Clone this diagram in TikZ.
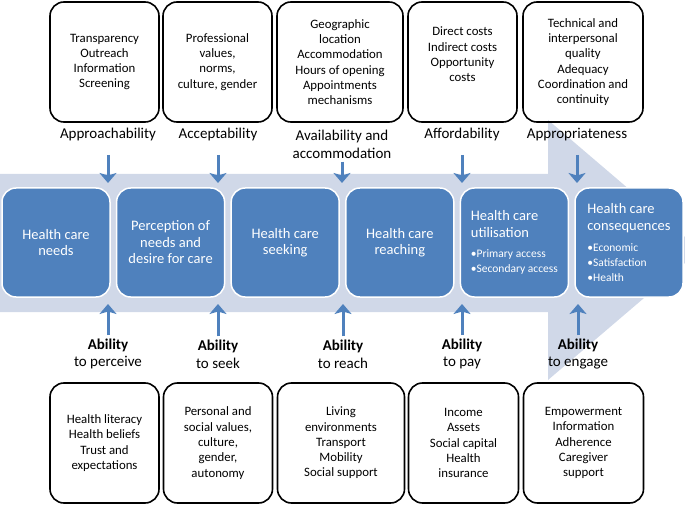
\documentclass[tikz,border=0pt]{standalone}
\usepackage{fontspec}
\setmainfont{Carlito}
\usetikzlibrary{arrows.meta}
\definecolor{shaftblue}{RGB}{208,216,232}
\definecolor{stageblue}{RGB}{79,129,189}
\tikzset{every node/.append style={font=\fontsize{12.8}{15.3}\selectfont}}
\tikzset{
  factor/.style={draw, line width=1.6pt, rounded corners=14pt, minimum height=120pt, align=center, inner sep=2pt},
  stage/.style={draw=white, line width=1.5pt, fill=stageblue, text=white, rounded corners=14pt,
    minimum width=108pt, minimum height=109pt, inner sep=2pt, font=\fontsize{14.5}{16.5}\selectfont},
  dimension/.style={align=center, font=\fontsize{15}{17.8}\selectfont},
  flow/.style={draw=stageblue, line width=3pt, -{Stealth[length=10pt,width=17pt,inset=2.5pt]}}
}
\newcommand{\itm}[1]{{\fontsize{11.5}{13}\selectfont •#1}}

\begin{document}
\begin{tikzpicture}[x=1pt,y=1pt]
    \useasboundingbox (0,0) rectangle (685,504);

    % the big background arrow
    \fill[shaftblue] (0,330) -- (548,330) -- (548,384) -- (685,267) -- (685,241)
      -- (548,124) -- (548,192) -- (0,192) -- cycle;
    \coordinate (shafttop) at (0,321);
    \coordinate (shaftbot) at (0,200);

    % stages
    \node[stage, align=center] (needs) at (56,261.5) {Health care\\needs};
    \node[stage, align=center] (perception) at (170.6,261.5) {Perception of\\needs and\\desire for care};
    \node[stage, align=center] (seeking) at (285.2,261.5) {Health care\\seeking};
    \node[stage, align=center] (reaching) at (399.8,261.5) {Health care\\reaching};
    \node[stage, align=left] (utilisation) at (514.4,261.5)
      {Health care\\utilisation\\[4pt]\itm{Primary access}\\[-2pt]\itm{Secondary access}};
    \node[stage, align=left] (consequences) at (629,261.5)
      {Health care\\consequences\\[4.5pt]\itm{Economic}\\[-1.5pt]\itm{Satisfaction}\\[-1.5pt]\itm{Health}};

    % supply side
    \node[factor, minimum width=109pt] (approachbox) at (104.5,442) {Transparency\\Outreach\\Information\\Screening};
    \node[factor, minimum width=109pt] (acceptbox) at (217.5,442) {Professional\\values,\\norms,\\culture, gender};
    \node[factor, minimum width=126pt] (availbox) at (340,442) {Geographic\\location\\Accommodation\\Hours of opening\\Appointments\\mechanisms};
    \node[factor, minimum width=109pt] (affordbox) at (462.5,442) {Direct costs\\Indirect costs\\Opportunity\\costs\\\mbox{}};
    \node[factor, minimum width=120pt] (appropbox) at (583,442) {Technical and\\interpersonal\\quality\\Adequacy\\Coordination and\\continuity};

    \node[dimension] (approach) at (108,369) {Approachability};
    \node[dimension] (accept) at (218,369) {Acceptability};
    \node[dimension] (avail) at (342,360) {Availability and\\accommodation};
    \node[dimension] (afford) at (462,369) {Affordability};
    \node[dimension] (approp) at (577,369) {Appropriateness};

    % demand side
    \node[dimension] (perceive) at (108,150) {\textbf{Ability}\\to perceive};
    \node[dimension] (seek) at (218,150) {\textbf{Ability}\\to seek};
    \node[dimension] (reach) at (343,150) {\textbf{Ability}\\to reach};
    \node[dimension] (pay) at (462,150) {\textbf{Ability}\\to pay};
    \node[dimension] (engage) at (578,150) {\textbf{Ability}\\to engage};

    \node[factor, minimum width=109pt] (perceivebox) at (104.5,61) {Health literacy\\Health beliefs\\Trust and\\expectations};
    \node[factor, minimum width=109pt] (seekbox) at (218,61) {Personal and\\social values,\\culture,\\gender,\\autonomy};
    \node[factor, minimum width=127pt] (reachbox) at (341,61) {Living\\environments\\Transport\\Mobility\\Social support};
    \node[factor, minimum width=110pt] (paybox) at (463.5,61) {Income\\Assets\\Social capital\\Health\\insurance};
    \node[factor, minimum width=120pt] (engagebox) at (583.5,61) {Empowerment\\Information\\Adherence\\Caregiver\\support};

    \draw[flow, shorten <=10pt] (approach) -- (approach |- shafttop);
    \draw[flow, shorten <=10pt] (accept) -- (accept |- shafttop);
    \draw[flow] (avail) -- (avail |- shafttop);
    \draw[flow, shorten <=10pt] (afford) -- (afford |- shafttop);
    \draw[flow, shorten <=10pt] (approp) -- (approp |- shafttop);

    \draw[flow] (perceive) -- (perceive |- shaftbot);
    \draw[flow] (seek) -- (seek |- shaftbot);
    \draw[flow] (reach) -- (reach |- shaftbot);
    \draw[flow] (pay) -- (pay |- shaftbot);
    \draw[flow] (engage) -- (engage |- shaftbot);

  \end{tikzpicture}
\end{document}
